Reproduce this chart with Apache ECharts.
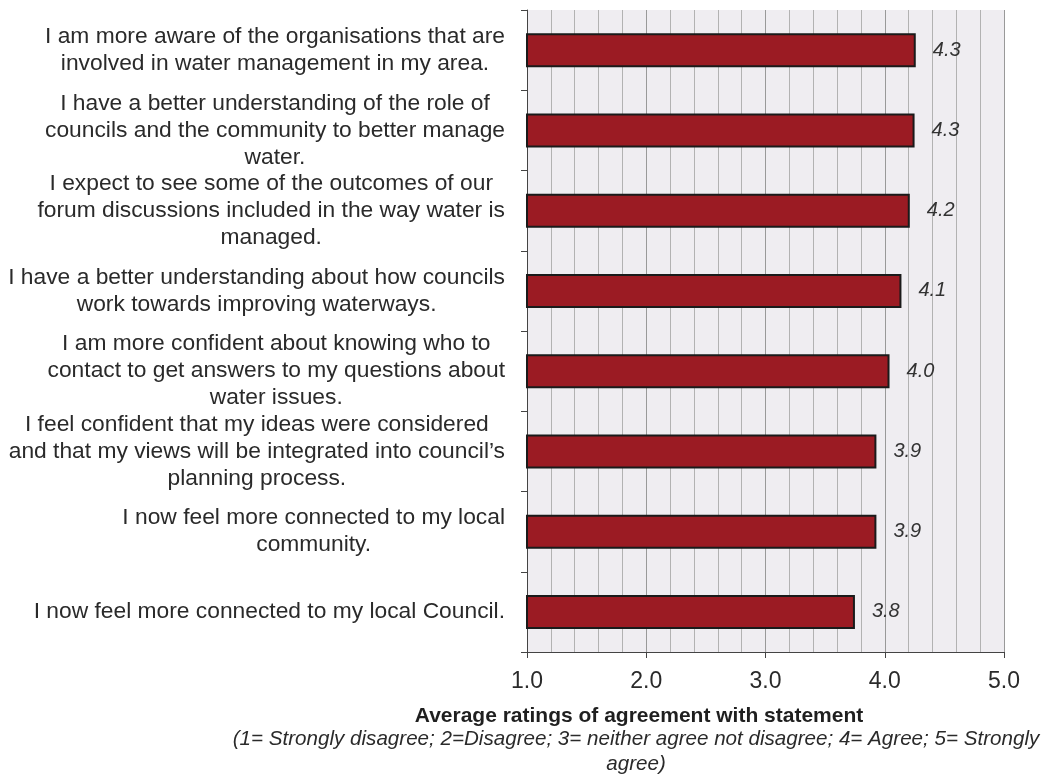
<!DOCTYPE html>
<html>
<head>
<meta charset="utf-8">
<script src="https://cdn.jsdelivr.net/npm/echarts@6/dist/echarts.min.js"></script>
<style>
  html, body { margin: 0; padding: 0; background: #ffffff; }
  #chart { width: 1045px; height: 775px; }
</style>
</head>
<body>
<div id="chart"></div>
<script>
// Survey statements (top to bottom), each line of the wrapped label kept separately
const statements = [
  ['I am more aware of the organisations that are', 'involved in water management in my area.'],
  ['I have a better understanding of the role of', 'councils and the community to better manage', 'water.'],
  ['I expect to see some of the outcomes of our', 'forum discussions included in the way water is', 'managed.'],
  ['I have a better understanding about how councils', 'work towards improving waterways.'],
  ['I am more confident about knowing who to', 'contact to get answers to my questions about', 'water issues.'],
  ['I feel confident that my ideas were considered', 'and that my views will be integrated into council\u2019s', 'planning process.'],
  ['I now feel more connected to my local', 'community.'],
  ['I now feel more connected to my local Council.']
];

// Average agreement rating for each statement
const ratings = [4.26, 4.25, 4.21, 4.14, 4.04, 3.93, 3.93, 3.75];

// Rating scale shown on the value axis
const scaleMin = 1;
const scaleMax = 5;

const axisTitle = 'Average ratings of agreement with statement';
const axisNote = ['(1= Strongly disagree; 2=Disagree; 3= neither agree not disagree; 4= Agree; 5= Strongly', 'agree)'];

const categories = statements.map(function (lines) { return lines.join('\n'); });

const chart = echarts.init(document.getElementById('chart'), null, { renderer: 'canvas' });

const font = 'Liberation Sans, Arial, Helvetica, sans-serif';

chart.setOption({
  backgroundColor: '#ffffff',
  animation: false,
  textStyle: { fontFamily: font },
  grid: {
    left: 527,
    right: 41,
    top: 10,
    bottom: 123,
    show: true,
    backgroundColor: '#efedf1',
    borderWidth: 0,
    containLabel: false
  },
  xAxis: {
    type: 'value',
    min: scaleMin,
    max: scaleMax,
    interval: 1,
    axisLine: { show: true, onZero: false, lineStyle: { color: '#444', width: 1 } },
    axisTick: { show: true, length: 6, lineStyle: { color: '#444' } },
    axisLabel: {
      fontFamily: font,
      fontSize: 23,
      color: '#2a2a2a',
      margin: 18,
      formatter: function (v) { return v.toFixed(1); }
    },
    splitLine: { show: true, lineStyle: { color: '#999999', width: 1 } },
    minorTick: { show: false, splitNumber: 5 },
    minorSplitLine: { show: true, lineStyle: { color: '#b2b2b2', width: 1 } }
  },
  yAxis: {
    type: 'category',
    inverse: true,
    data: categories,
    axisLine: { show: true, lineStyle: { color: '#444', width: 1 } },
    axisTick: { show: true, length: 6, alignWithLabel: false, lineStyle: { color: '#444' } },
    splitLine: { show: false },
    axisLabel: {
      margin: 22,
      align: 'right',
      interval: 0,
      formatter: function (value) {
        return value.split('\n').map(function (l) { return '{c|' + l + '}'; }).join('\n');
      },
      rich: {
        c: { fontFamily: font, fontSize: 22.8, lineHeight: 27, color: '#2a2a2a', align: 'center' }
      }
    }
  },
  graphic: [
    {
      type: 'text',
      x: 639,
      y: 716,
      style: {
        text: axisTitle,
        fontFamily: font,
        fontSize: 21,
        fontWeight: 'bold',
        fill: '#1f1f1f',
        align: 'center',
        verticalAlign: 'middle'
      }
    },
    {
      type: 'text',
      x: 636,
      y: 752,
      style: {
        text: axisNote.join('\n'),
        fontFamily: font,
        fontSize: 20.6,
        fontStyle: 'italic',
        lineHeight: 25,
        fill: '#2a2a2a',
        align: 'center',
        verticalAlign: 'middle'
      }
    }
  ],
  series: [{
    type: 'bar',
    data: ratings,
    barWidth: 34,
    itemStyle: { color: '#9b1b23', borderColor: '#1a1a1a', borderWidth: 2 },
    label: {
      show: true,
      position: 'right',
      distance: 17,
      fontFamily: font,
      fontSize: 20,
      fontStyle: 'italic',
      color: '#333',
      formatter: function (p) { return p.value.toFixed(1); }
    }
  }]
});
</script>
</body>
</html>
